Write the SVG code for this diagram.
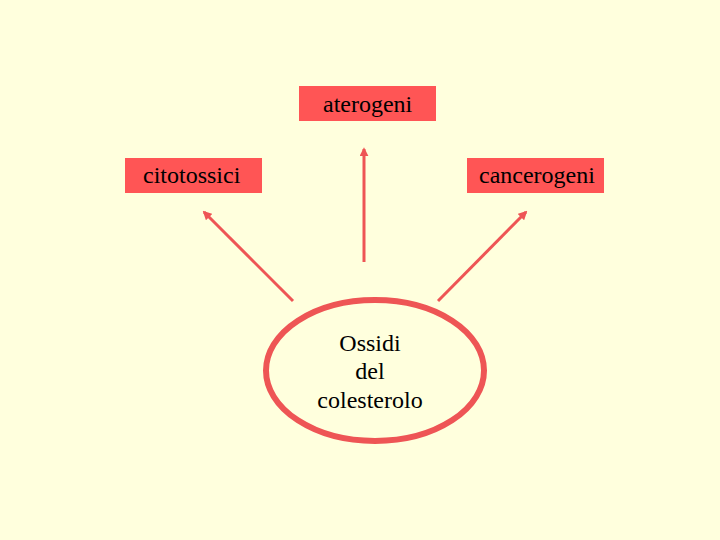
<svg xmlns="http://www.w3.org/2000/svg" width="720" height="540" viewBox="0 0 720 540">
<defs>
<style>
.box{fill:#FF5555;}
.lbl{font-family:"Liberation Serif","Times New Roman",serif;font-size:24px;fill:#000;}
.edge{stroke:#EE5555;stroke-width:3;fill:none;marker-end:url(#arr);}
</style>
<marker id="arr" viewBox="0 0 10 10" refX="8" refY="5" markerWidth="3" markerHeight="3" orient="auto" markerUnits="strokeWidth">
<path d="M0,0 L10,5 L0,10 z" fill="#EE5555"/>
</marker>
</defs>
<rect width="720" height="540" fill="#FFFFDD"/>
<g id="aterogeni">
<rect class="box" x="299" y="86" width="137" height="35"/>
<text class="lbl" x="323" y="112">aterogeni</text>
</g>
<g id="citotossici">
<rect class="box" x="125" y="158" width="137" height="35"/>
<text class="lbl" x="143" y="183">citotossici</text>
</g>
<g id="cancerogeni">
<rect class="box" x="467" y="158" width="137" height="35"/>
<text class="lbl" x="479" y="183">cancerogeni</text>
</g>
<g id="ossidi">
<ellipse cx="375" cy="370.5" rx="109" ry="70.5" fill="#FFFFDD" stroke="#EE5555" stroke-width="6"/>
<text class="lbl" text-anchor="middle" x="370" y="351">Ossidi</text>
<text class="lbl" text-anchor="middle" x="370" y="379">del</text>
<text class="lbl" text-anchor="middle" x="370" y="408">colesterolo</text>
</g>
<g id="connectors">
<line class="edge" x1="293" y1="301" x2="204" y2="212"/>
<line class="edge" x1="364" y1="262" x2="364" y2="149"/>
<line class="edge" x1="438" y1="301" x2="526" y2="212"/>
</g>
</svg>
